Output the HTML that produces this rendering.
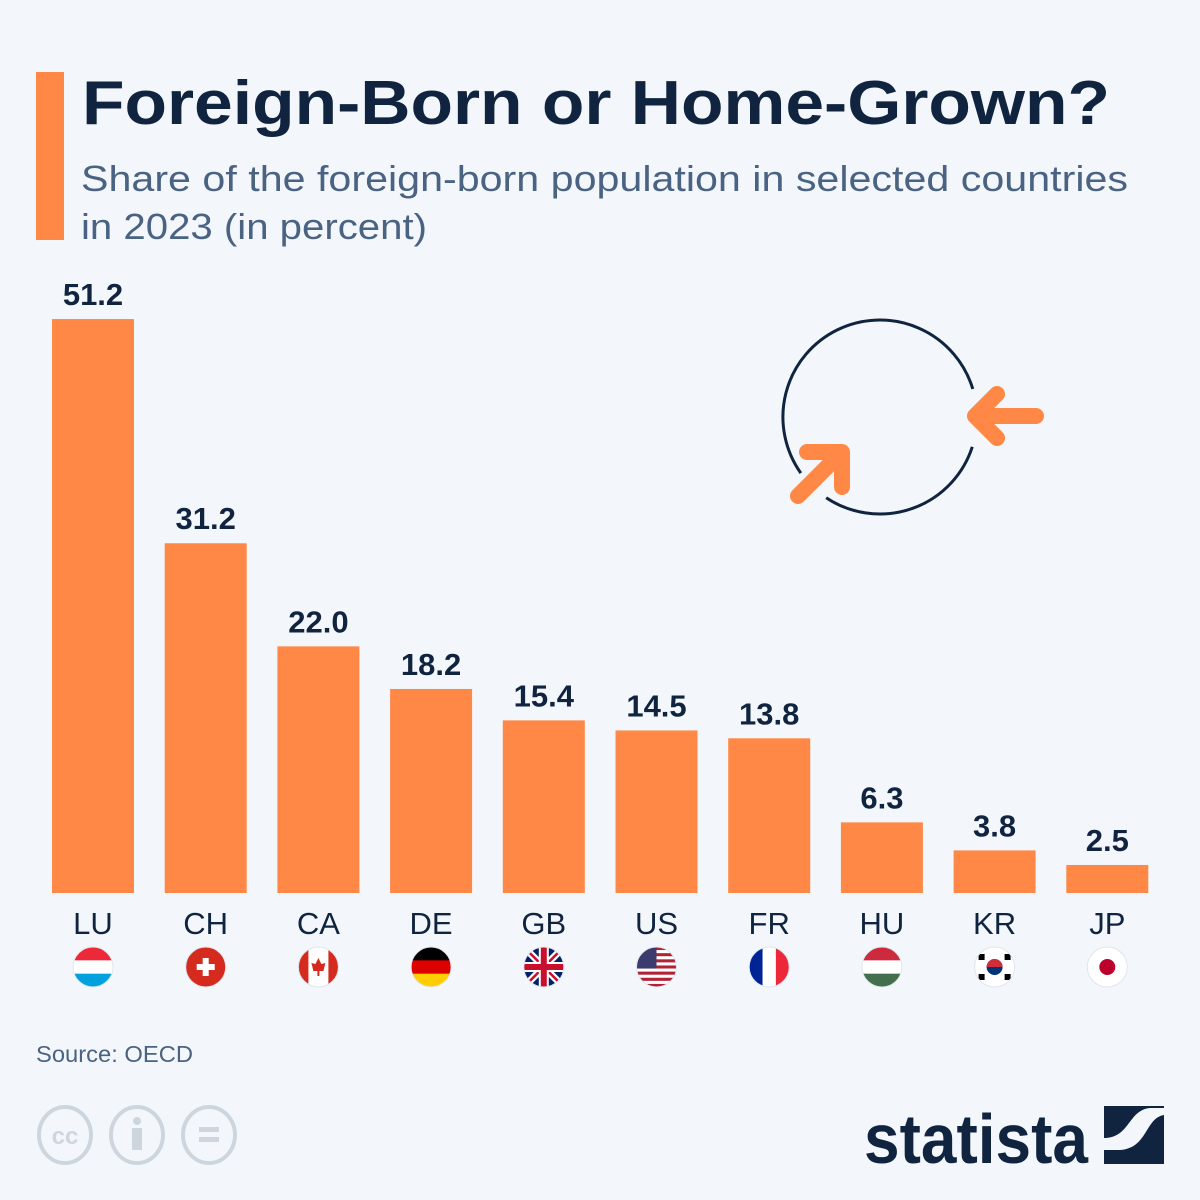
<!DOCTYPE html>
<html><head><meta charset="utf-8"><style>
body{margin:0;background:#f3f7fb;}
svg{display:block;font-family:"Liberation Sans",sans-serif;}
</style></head><body>
<svg id="chart" width="1200" height="1200" viewBox="0 0 1200 1200">
<rect width="1200" height="1200" fill="#f3f7fb"/>
<rect x="36" y="72" width="28" height="168" fill="#ff8847"/>
<text x="82" y="124" font-size="62" font-weight="bold" fill="#10243f" textLength="1028" lengthAdjust="spacingAndGlyphs">Foreign-Born or Home-Grown?</text>
<text x="81" y="191" font-size="36" fill="#4a6382" textLength="1047" lengthAdjust="spacingAndGlyphs">Share of the foreign-born population in selected countries</text>
<text x="81" y="239" font-size="36" fill="#4a6382" textLength="346" lengthAdjust="spacingAndGlyphs">in 2023 (in percent)</text>
<g>
<path d="M800.8,473.1 A97,97 0 1 1 972.8,389" fill="none" stroke="#10243f" stroke-width="3"/>
<path d="M972.3,446.8 A97,97 0 0 1 826.2,497.7" fill="none" stroke="#10243f" stroke-width="3"/>
<path d="M1036,416 H975 M997,394 L975,416 L997,438" fill="none" stroke="#ff8847" stroke-width="16" stroke-linecap="round" stroke-linejoin="round"/>
<path d="M798,496 L842,452 M807,452 H842 V487" fill="none" stroke="#ff8847" stroke-width="16" stroke-linecap="round" stroke-linejoin="round"/>
</g>
<g id="bars"></g>
<text x="36" y="1062" font-size="23" fill="#4a6382" textLength="157" lengthAdjust="spacingAndGlyphs">Source: OECD</text>
<g fill="none" stroke="#cdd6df" stroke-width="4">
<ellipse cx="65" cy="1135" rx="26" ry="28"/><ellipse cx="137" cy="1135" rx="26" ry="28"/><ellipse cx="209" cy="1135" rx="26" ry="28"/>
<text x="65" y="1144" font-size="24" font-weight="bold" fill="#cdd6df" stroke="none" text-anchor="middle">cc</text>
<circle cx="137" cy="1121" r="4" fill="#cdd6df" stroke="none"/><rect x="132" y="1128" width="10" height="22" fill="#cdd6df" stroke="none"/>
<rect x="199" y="1127" width="20" height="5" fill="#cdd6df" stroke="none"/><rect x="199" y="1137" width="20" height="5" fill="#cdd6df" stroke="none"/>
</g>
<text x="864" y="1163" font-size="70" font-weight="bold" fill="#10243f" textLength="224" lengthAdjust="spacingAndGlyphs">statista</text>
<g>
<rect x="1104" y="1106" width="60" height="58" fill="#10243f"/>
<path d="M1104,1138 C1130,1138 1128,1110 1150,1108 L1164,1108 L1164,1115 C1145,1118 1148,1148 1120,1150 L1104,1150 Z" fill="#f3f7fb"/>
</g>
</svg>
<script>
const categories=["LU","CH","CA","DE","GB","US","FR","HU","KR","JP"];
const values=[51.2,31.2,22.0,18.2,15.4,14.5,13.8,6.3,3.8,2.5];
const valueLabels=["51.2","31.2","22.0","18.2","15.4","14.5","13.8","6.3","3.8","2.5"];
const NS="http://www.w3.org/2000/svg";
const baseY=893, pxPerUnit=11.21, x0=52, step=112.7, bw=82;
function y(v){return baseY-v*pxPerUnit;}
function x(i){return x0+i*step;}
const g=document.getElementById('bars');
function mk(tag,attrs,parent){const e=document.createElementNS(NS,tag);for(const k in attrs)e.setAttribute(k,attrs[k]);(parent||g).appendChild(e);return e;}
function flag(code,cx,cy,fg){
  const id='clip-'+code;
  const cp=mk('clipPath',{id:id},fg);mk('circle',{cx:cx,cy:cy,r:20},cp);
  const f=mk('g',{'clip-path':'url(#'+id+')'},fg);
  const L=cx-20,T=cy-20;
  const stripesH=(cols)=>cols.forEach((c,k)=>mk('rect',{x:L,y:T+k*40/cols.length,width:40,height:40/cols.length+0.5,fill:c},f));
  const stripesV=(cols)=>cols.forEach((c,k)=>mk('rect',{x:L+k*40/cols.length,y:T,width:40/cols.length+0.5,height:40,fill:c},f));
  if(code==='LU')stripesH(['#ed2939','#fff','#00a1de']);
  else if(code==='CH'){mk('rect',{x:L,y:T,width:40,height:40,fill:'#d52b1e'},f);mk('rect',{x:cx-3,y:cy-9,width:6,height:18,fill:'#fff'},f);mk('rect',{x:cx-9,y:cy-3,width:18,height:6,fill:'#fff'},f);}
  else if(code==='CA'){stripesV(['#d52b1e','#fff','#fff','#d52b1e']);mk('path',{d:`M${cx},${cy-9} L${cx+3},${cy-3} L${cx+7},${cy-4} L${cx+5},${cy+4} L${cx+1},${cy+4} L${cx+1},${cy+9} L${cx-1},${cy+9} L${cx-1},${cy+4} L${cx-5},${cy+4} L${cx-7},${cy-4} L${cx-3},${cy-3} Z`,fill:'#d52b1e'},f);}
  else if(code==='DE')stripesH(['#000','#dd0000','#ffce00']);
  else if(code==='GB'){mk('rect',{x:L,y:T,width:40,height:40,fill:'#012169'},f);mk('path',{d:`M${L},${T} L${L+40},${T+40} M${L+40},${T} L${L},${T+40}`,stroke:'#fff','stroke-width':7},f);mk('path',{d:`M${L},${T} L${L+40},${T+40} M${L+40},${T} L${L},${T+40}`,stroke:'#c8102e','stroke-width':2.5},f);mk('path',{d:`M${cx},${T} V${T+40} M${L},${cy} H${L+40}`,stroke:'#fff','stroke-width':10},f);mk('path',{d:`M${cx},${T} V${T+40} M${L},${cy} H${L+40}`,stroke:'#c8102e','stroke-width':6},f);}
  else if(code==='US'){for(let k=0;k<13;k++)mk('rect',{x:L,y:T+k*40/13,width:40,height:40/13+0.3,fill:k%2?'#fff':'#b22234'},f);mk('rect',{x:L,y:T,width:20,height:40*7/13,fill:'#3c3b6e'},f);}
  else if(code==='FR')stripesV(['#002395','#fff','#ed2939']);
  else if(code==='HU')stripesH(['#cd2a3e','#fff','#436f4d']);
  else if(code==='KR'){mk('rect',{x:L,y:T,width:40,height:40,fill:'#fff'},f);mk('circle',{cx:cx,cy:cy,r:8,fill:'#003478'},f);mk('path',{d:`M${cx-8},${cy} A8,8 0 0 1 ${cx+8},${cy} Z`,fill:'#cd2e3a'},f);[[-13,-10],[13,-10],[-13,10],[13,10]].forEach(p=>mk('rect',{x:cx+p[0]-3,y:cy+p[1]-3,width:6,height:6,fill:'#000'},f));}
  else if(code==='JP'){mk('rect',{x:L,y:T,width:40,height:40,fill:'#fff'},f);mk('circle',{cx:cx,cy:cy,r:8,fill:'#bc002d'},f);}
  mk('circle',{cx:cx,cy:cy,r:20,fill:'none',stroke:'#dfe6ee','stroke-width':1},fg);
}
categories.forEach((c,i)=>{
  const bx=x(i), cx=bx+bw/2;
  const r=mk('rect',{x:bx,y:y(values[i]),width:bw,height:baseY-y(values[i]),fill:'#ff8847'});
  
  
  const t=mk('text',{x:cx,y:y(values[i])-14,'font-size':31,'font-weight':'bold',fill:'#10243f','text-anchor':'middle'});
  t.textContent=valueLabels[i];
  
  
  const l=mk('text',{x:cx,y:934,'font-size':31,fill:'#10243f','text-anchor':'middle'});
  l.textContent=c;
  
  
  const fg=mk('g',{});
  
  
  flag(c,cx,967,fg);
});
</script>
</body></html>
